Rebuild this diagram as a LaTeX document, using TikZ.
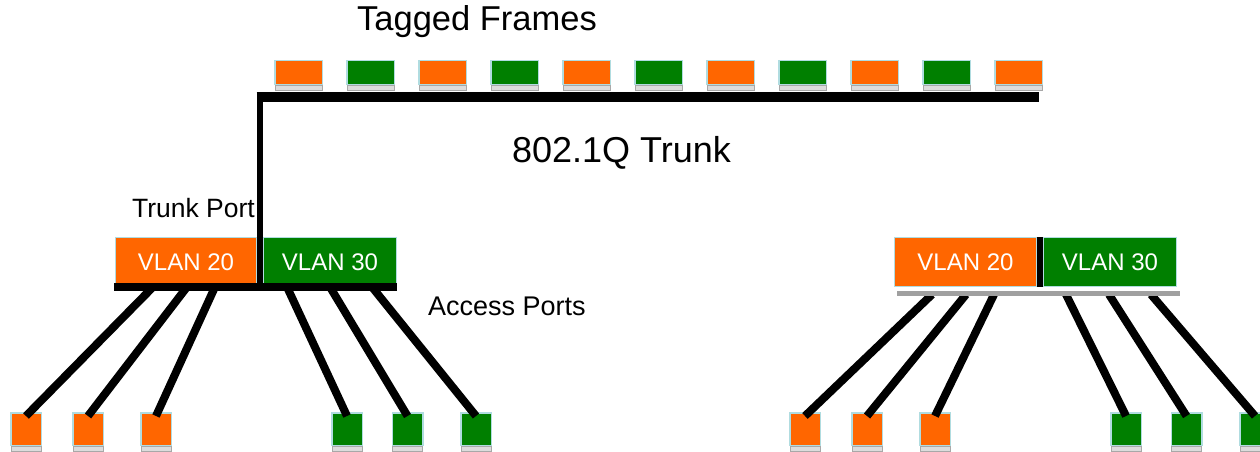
\documentclass[tikz,border=0pt]{standalone}
\usepackage{fontspec}
\setmainfont{Liberation Sans}
\usetikzlibrary{calc}
\definecolor{vorange}{HTML}{FF6600}
\definecolor{vgreen}{HTML}{007F00}
\definecolor{edgeblue}{HTML}{B0DCE0}
\definecolor{basegray}{HTML}{DCDCDC}
\definecolor{baseedge}{HTML}{A8A8A8}
\definecolor{bargray}{HTML}{A0A0A0}
\begin{document}
\begin{tikzpicture}[x=1pt,y=-1pt,
  frame/.style={draw=edgeblue,line width=1.5pt,minimum width=47.5pt,minimum height=24pt,inner sep=0pt},
  host/.style={draw=edgeblue,line width=1.5pt,minimum width=30.5pt,minimum height=32.5pt,inner sep=0pt},
  port/.style={draw=edgeblue,line width=1pt,minimum height=49pt,inner sep=0pt,text=white,font=\fontsize{24}{28}\selectfont},
  base/.style={fill=basegray,draw=baseedge,line width=0.8pt},
  link/.style={line width=8pt},
  trunkline/.style={line width=10pt},
  lbl/.style={inner sep=0pt,anchor=base},
]
\useasboundingbox (0,0) rectangle (1260,452);

% tagged frames
\foreach \i/\c in {0/vorange,1/vgreen,2/vorange,3/vgreen,4/vorange,5/vgreen,6/vorange,7/vgreen,8/vorange,9/vgreen,10/vorange}{
  \node[frame,fill=\c] (f\i) at (298.5+72*\i,72.5) {};
  \draw[base] ($(f\i.south west)+(1,0)$) rectangle ($(f\i.south east)+(-1,5.5)$);
}

% labels
\node[lbl,font=\fontsize{34.5}{40}\selectfont] (ttf) at (477,31) {Tagged Frames};
\node[lbl,font=\fontsize{36}{40}\selectfont] (ttr) at (621.5,162) {802.1Q Trunk};
\node[lbl,anchor=base east,font=\fontsize{26.5}{30}\selectfont] (ttp) at (255,217) {Trunk Port};
\node[lbl,anchor=base west,font=\fontsize{27}{32}\selectfont] (tap) at (428,315) {Access Ports};

% switch ports
\node[port,fill=vorange,minimum width=141pt] (l20) at (186,262) {VLAN 20};
\node[port,fill=vgreen,minimum width=133pt] (l30) at (330,262) {VLAN 30};
\node[port,fill=vorange,minimum width=142pt] (r20) at (965.5,262) {VLAN 20};
\node[port,fill=vgreen,minimum width=133pt] (r30) at (1110,262) {VLAN 30};

% hosts
\foreach \n/\x/\c in {a1/26/vorange,a2/88/vorange,a3/156/vorange,a4/347/vgreen,a5/407.5/vgreen,a6/476/vgreen,
                      b1/805/vorange,b2/867/vorange,b3/935/vorange,b4/1126/vgreen,b5/1186.5/vgreen,b6/1255/vgreen}{
  \node[host,fill=\c] (\n) at (\x,429) {};
  \draw[base] ($(\n.south west)+(1,0)$) rectangle ($(\n.south east)+(-1,5)$);
}

% link start points
\foreach \k/\x in {1/153,2/187,3/215,4/287,5/330,6/372}{
  \coordinate (sa\k) at (\x,287);
  \coordinate (sb\k) at (\x+779,294.5);
}
\foreach \k in {1,...,6}{
  \draw[link] (sa\k) -- ($(a\k.north)+(0,4)$);
  \draw[link] (sb\k) -- ($(b\k.north)+(0,4)$);
}

% bars
\coordinate (lb1) at (114,287);
\coordinate (lb2) at (397,287);
\draw[line width=8pt] (lb1) -- (lb2);
\coordinate (rb1) at (897,293.3);
\coordinate (rb2) at (1180,293.3);
\draw[line width=5pt,bargray] (rb1) -- (rb2);
\draw[line width=6.5pt] ($(r20.north east)!0.5!(r30.north west)$) -- ($(r20.south east)!0.5!(r30.south west)$);

% trunk
\coordinate (tk) at (260,97);
\coordinate (te) at (1039,97);
\coordinate (tb) at (260,287);
\draw[trunkline] ($(tk)+(-3.3,0)$) -- (te);
\draw[line width=6.5pt] ($(tk)+(0,-5)$) -- (tb);
\end{tikzpicture}
\end{document}
